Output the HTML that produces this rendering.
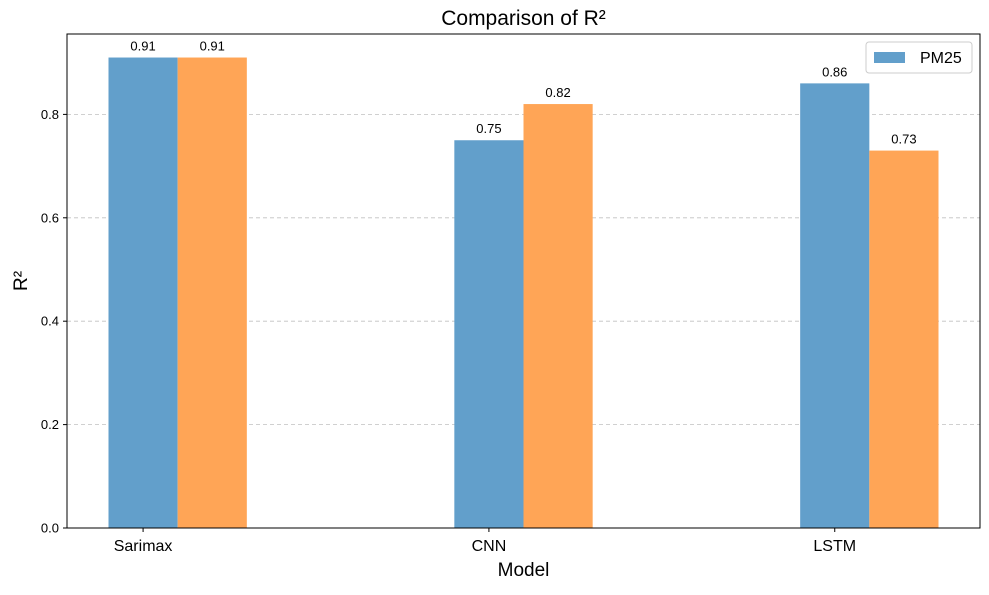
<!DOCTYPE html>
<html><head><meta charset="utf-8"><style>
body{margin:0;background:#fff;font-family:"Liberation Sans","DejaVu Sans",sans-serif;}
svg text{font-family:"Liberation Sans","DejaVu Sans",sans-serif;}
</style></head><body>
<svg id="c" width="989" height="590" xmlns="http://www.w3.org/2000/svg"></svg>
<script>
const categories=["Sarimax","CNN","LSTM"];
const seriesA=[0.91,0.75,0.86];
const seriesB=[0.91,0.82,0.73];
const yTicks=[0.0,0.2,0.4,0.6,0.8];
const seriesNames=["PM25"];
const svg=document.getElementById('c');
const NS="http://www.w3.org/2000/svg";
const L=67,R=980,T=34,B=528;
const xMin=-0.22,xMax=2.42,yMax=0.9555;
const xs=v=>L+(v-xMin)/(xMax-xMin)*(R-L);
const ys=v=>B-v/yMax*(B-T);
function mk(t,a,txt){const e=document.createElementNS(NS,t);for(const k in a)e.setAttribute(k,a[k]);if(txt!==undefined)e.textContent=txt;svg.appendChild(e);return e;}
yTicks.forEach(v=>{if(v>0){const g=mk('line',{x1:L,x2:R,y1:ys(v),y2:ys(v),stroke:'#c0c0c0','stroke-width':0.8,'stroke-dasharray':'4,3'});

}});
const w=0.2;
categories.forEach((c,i)=>{
 [[seriesA,'#629fcb',0,'blue'],[seriesB,'#ffa556',w,'orange']].forEach(([s,col,off,nm])=>{
  const x0=xs(i+off-w/2),x1=xs(i+off+w/2);
  const r=mk('rect',{x:x0,y:ys(s[i]),width:x1-x0,height:B-ys(s[i]),fill:col});
  
  
  const t=mk('text',{x:(x0+x1)/2,y:ys(s[i])-7,'text-anchor':'middle','font-size':13,fill:'#000'},s[i].toFixed(2));
  
  
 });
 const tk=mk('line',{x1:xs(i),x2:xs(i),y1:B,y2:B+4,stroke:'#000'});
 
 
 const tl=mk('text',{x:xs(i),y:B+23,'text-anchor':'middle','font-size':16},c);
 
 
});
yTicks.forEach(v=>{
 const tk=mk('line',{x1:L-4,x2:L,y1:ys(v),y2:ys(v),stroke:'#000'});
 
 
 const tl=mk('text',{x:L-8,y:ys(v)+4.5,'text-anchor':'end','font-size':13},v.toFixed(1));
 
 
});
const ax=mk('rect',{x:L,y:T,width:R-L,height:B-T,fill:'none',stroke:'#000','stroke-width':1});


const ti=mk('text',{x:(L+R)/2,y:25,'text-anchor':'middle','font-size':21},'Comparison of R²');


const xt=mk('text',{x:(L+R)/2,y:576,'text-anchor':'middle','font-size':19},'Model');


const yt=mk('text',{x:27,y:(T+B)/2,'text-anchor':'middle','font-size':19,transform:'rotate(-90 27 '+((T+B)/2)+')'},'R²');


const lg=mk('rect',{x:866,y:42,width:106,height:31,fill:'#fff',stroke:'#ccc',rx:3});


const ls=mk('rect',{x:874,y:52,width:31,height:11,fill:'#629fcb'});


const lt=mk('text',{x:920,y:63,'font-size':16},seriesNames[0]);


</script>
</body></html>
